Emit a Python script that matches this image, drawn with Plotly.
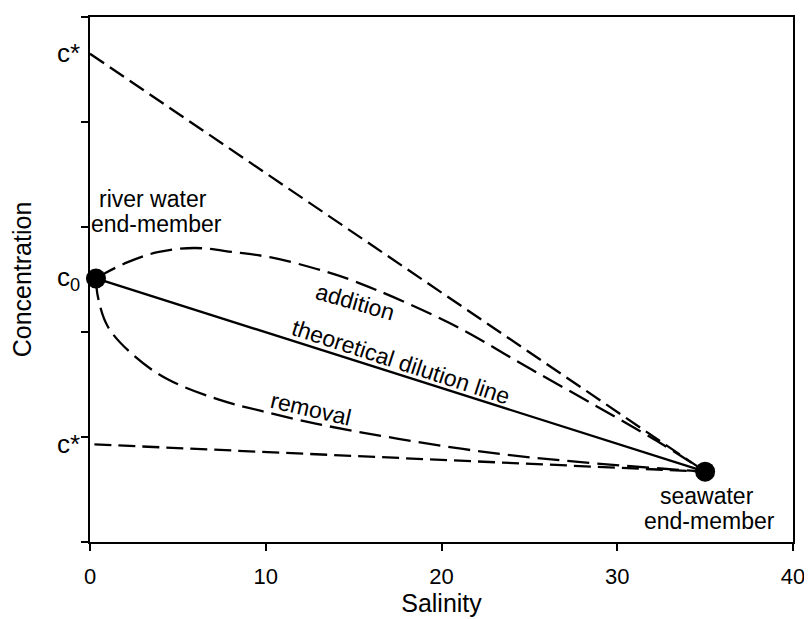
import plotly.graph_objects as go

# End-members
end_salinity = [0.34, 35.0]
end_conc = [2.51, 0.67]

# Theoretical dilution line
dilution_x = [0.34, 35.0]
dilution_y = [2.51, 0.67]

# c* extrapolation lines
upper_cstar_x = [0.0, 35.0]
upper_cstar_y = [4.65, 0.67]
lower_cstar_x = [0.25, 35.0]
lower_cstar_y = [0.93, 0.67]

# Non-conservative curves
addition_x = [0.34, 0.85, 2.15, 3.85, 5.94, 8.21, 10.3, 12.9, 15.1, 20.4, 25.1, 29.8, 32.7, 35.0]
addition_y = [2.51, 2.56, 2.665, 2.76, 2.80, 2.76, 2.71, 2.60, 2.48, 2.09, 1.645, 1.20, 0.917, 0.67]
removal_x = [0.34, 0.45, 1.02, 2.55, 4.42, 7.25, 9.74, 12.91, 17.55, 23.21, 28.87, 35.0]
removal_y = [2.51, 2.335, 2.05, 1.767, 1.55, 1.36, 1.248, 1.125, 0.983, 0.841, 0.747, 0.67]

x_ticks = [0, 10, 20, 30, 40]
y_ticks = [0, 1, 2, 3, 4, 5]

FONT = "Liberation Sans, Arial, Helvetica, sans-serif"

fig = go.Figure()

fig.add_trace(go.Scatter(x=upper_cstar_x, y=upper_cstar_y, mode="lines",
                         line=dict(color="black", width=2.3, dash="17px,7px")))
fig.add_trace(go.Scatter(x=lower_cstar_x, y=lower_cstar_y, mode="lines",
                         line=dict(color="black", width=2.3, dash="17px,7px")))
fig.add_trace(go.Scatter(x=addition_x, y=addition_y, mode="lines", line_shape="spline",
                         line=dict(color="black", width=2.3, dash="22px,8px")))
fig.add_trace(go.Scatter(x=removal_x, y=removal_y, mode="lines", line_shape="spline",
                         line=dict(color="black", width=2.3, dash="22px,8px")))
fig.add_trace(go.Scatter(x=dilution_x, y=dilution_y, mode="lines",
                         line=dict(color="black", width=2.3)))
fig.add_trace(go.Scatter(x=end_salinity, y=end_conc, mode="markers", cliponaxis=False,
                         marker=dict(color="black", size=20)))

ann_font = dict(family=FONT, size=23, color="black")
c_font = dict(family=FONT, size=26, color="black")
annotations = [
    dict(x=3.6, y=3.27, text="river water", showarrow=False, font=ann_font),
    dict(x=3.8, y=3.03, text="end-member", showarrow=False, font=ann_font),
    dict(x=35.1, y=0.435, text="seawater", showarrow=False, font=ann_font),
    dict(x=35.25, y=0.2, text="end-member", showarrow=False, font=ann_font),
    dict(x=15.1, y=2.29, text="addition", showarrow=False, textangle=16, font=ann_font),
    dict(x=17.7, y=1.71, text="theoretical dilution line", showarrow=False, textangle=18, font=ann_font),
    dict(x=12.6, y=1.27, text="removal", showarrow=False, textangle=13, font=ann_font),
    dict(xref="paper", x=0, xshift=-8, xanchor="right", y=4.66, text="c*", showarrow=False, font=c_font),
    dict(xref="paper", x=0, xshift=-8, xanchor="right", y=2.51, text="c<sub>0</sub>", showarrow=False, font=c_font),
    dict(xref="paper", x=0, xshift=-8, xanchor="right", y=0.936, text="c*", showarrow=False, font=c_font),
]

fig.update_layout(
    width=804, height=611,
    margin=dict(l=82, r=13, t=7, b=75),
    paper_bgcolor="white", plot_bgcolor="white",
    showlegend=False,
    font=dict(family=FONT, size=22, color="black"),
    annotations=annotations,
    xaxis=dict(range=[0, 40], tickvals=x_ticks, ticks="outside", ticklen=7, tickwidth=2,
               tickcolor="black", showline=True, linecolor="black", linewidth=2, mirror=True,
               showgrid=False, zeroline=False, tickfont=dict(size=22), ticklabelstandoff=7,
               ticklabeloverflow="allow",
               title=dict(text="Salinity", font=dict(size=25), standoff=5)),
    yaxis=dict(range=[0, 5], tickvals=y_ticks, ticks="outside", ticklen=7, tickwidth=2,
               tickcolor="black", showline=True, linecolor="black", linewidth=2, mirror=True,
               showgrid=False, zeroline=False, showticklabels=False,
               title=dict(text="Concentration", font=dict(size=25), standoff=42)),
)

fig.write_html("out.html")
